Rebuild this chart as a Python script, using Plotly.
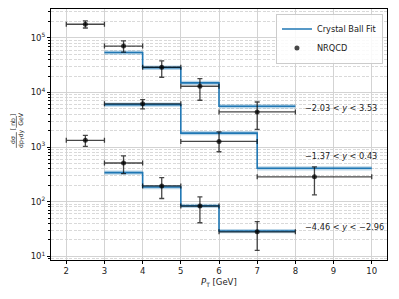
import numpy as np
import plotly.graph_objects as go

# ---- data ----
fit1_edges = [3, 4, 5, 6, 8]
fit1_vals = [5.4e4, 2.85e4, 1.5e4, 5.6e3]
fit2_edges = [3, 5, 7, 10]
fit2_vals = [6.0e3, 1.8e3, 4.1e2]
fit3_edges = [3, 4, 5, 6, 8]
fit3_vals = [3.4e2, 1.85e2, 8.4e1, 2.9e1]
fit_rel_unc = 0.09

s1_x = [2.5, 3.5, 4.5, 5.5, 7.0]
s1_hw = [0.5, 0.5, 0.5, 0.5, 1.0]
s1_y = [1.78e5, 7.1e4, 2.9e4, 1.3e4, 4.4e3]
s1_hi = [2.05e5, 8.8e4, 3.8e4, 1.8e4, 6.7e3]
s1_lo = [1.52e5, 5.5e4, 1.9e4, 7.2e3, 2.1e3]

s2_x = [2.5, 4.0, 6.0, 8.5]
s2_hw = [0.5, 1.0, 1.0, 1.5]
s2_y = [1.33e3, 6.2e3, 1.27e3, 2.85e2]
s2_hi = [1.64e3, 7.4e3, 1.9e3, 4.35e2]
s2_lo = [1.03e3, 5.0e3, 8.2e2, 1.33e2]

s3_x = [3.5, 4.5, 5.5, 7.0]
s3_hw = [0.5, 0.5, 0.5, 1.0]
s3_y = [5.1e2, 1.94e2, 8.3e1, 2.8e1]
s3_hi = [6.9e2, 2.76e2, 1.22e2, 4.3e1]
s3_lo = [3.26e2, 1.14e2, 4.1e1, 1.28e1]

labels = ["\u22122.03 < <i>y</i> < 3.53", "\u22121.37 < <i>y</i> < 0.43", "\u22124.46 < <i>y</i> < \u22122.96"]
label_x = [8.2, 8.2, 8.2]
label_y = [5.1e3, 7.0e2, 3.45e1]

xticks = [2, 3, 4, 5, 6, 7, 8, 9, 10]
yticks = [1e1, 1e2, 1e3, 1e4, 1e5]
yticktext = ["10<sup>1</sup>", "10<sup>2</sup>", "10<sup>3</sup>", "10<sup>4</sup>", "10<sup>5</sup>"]

BLUE = "#1f77b4"
BAND = "rgba(31,119,180,0.3)"
PT = "rgba(0,0,0,0.72)"
FONT = "DejaVu Sans"
FS = 8.5

fig = go.Figure()

fits = [(fit1_edges, fit1_vals), (fit2_edges, fit2_vals), (fit3_edges, fit3_vals)]
for i, (edges, vals) in enumerate(fits):
    v = list(vals) + [vals[-1]]
    lo = [a * (1 - fit_rel_unc) for a in v]
    hi = [a * (1 + fit_rel_unc) for a in v]
    fig.add_trace(go.Scatter(x=edges, y=lo, mode="lines", line=dict(width=0, shape="hv"),
                             showlegend=False, hoverinfo="skip"))
    fig.add_trace(go.Scatter(x=edges, y=hi, mode="lines", line=dict(width=0, shape="hv"),
                             fill="tonexty", fillcolor=BAND, showlegend=False, hoverinfo="skip"))
    fig.add_trace(go.Scatter(x=edges, y=v, mode="lines", line=dict(color=BLUE, width=1.6, shape="hv"),
                             name="Crystal Ball Fit", showlegend=(i == 0)))

pts = [(s1_x, s1_hw, s1_y, s1_hi, s1_lo), (s2_x, s2_hw, s2_y, s2_hi, s2_lo), (s3_x, s3_hw, s3_y, s3_hi, s3_lo)]
for i, (x, hw, y, hi, lo) in enumerate(pts):
    fig.add_trace(go.Scatter(
        x=x, y=y, mode="markers", name="NRQCD", showlegend=(i == 0),
        marker=dict(color=PT, size=5),
        error_x=dict(type="data", array=hw, color=PT, thickness=1.3, width=2.5),
        error_y=dict(type="data", array=[h - c for h, c in zip(hi, y)],
                     arrayminus=[c - l for c, l in zip(y, lo)], color=PT, thickness=1.3, width=2.5),
    ))

for t, xx, yy in zip(labels, label_x, label_y):
    fig.add_annotation(x=xx, y=np.log10(yy), text=t, showarrow=False, xanchor="left", yanchor="middle",
                       font=dict(family=FONT, size=8.2, color="#222"))

# axis titles
fig.add_annotation(xref="paper", yref="paper", x=0.5, y=-0.088, text="<i>P</i><sub>T</sub> [GeV]",
                   showarrow=False, xanchor="center", yanchor="middle", font=dict(family=FONT, size=FS, color="#222"))
NB = "\u00a0"
ylab = ("<u>" + NB * 2 + "d\u03c3" + NB * 2 + "</u>" + NB + "[" + "<u>" + NB + "nb" + NB + "</u>" + "]"
        + "<br>" + "dp<sub>T</sub>dy" + NB * 2 + "GeV" + NB)
fig.add_annotation(xref="paper", yref="paper", x=-0.1, y=0.52, text=ylab, textangle=-90,
                   showarrow=False, xanchor="center", yanchor="middle", align="left",
                   font=dict(family=FONT, size=6.2, color="#222"))

fig.update_layout(
    width=399, height=299,
    margin=dict(l=51, r=12, t=9, b=39, autoexpand=False),
    paper_bgcolor="white", plot_bgcolor="white",
    font=dict(family=FONT, size=FS, color="#222"),
    legend=dict(x=0.988, y=0.982, xanchor="right", yanchor="top", bgcolor="rgba(255,255,255,0.85)",
                bordercolor="#cccccc", borderwidth=1, font=dict(size=8.2), tracegroupgap=0,
                traceorder="normal", itemwidth=30),
    xaxis=dict(range=[1.6, 10.4], tickvals=xticks, showgrid=True, gridcolor="#d3d3d3", gridwidth=1,
               showline=True, linecolor="black", linewidth=1, mirror=True, automargin=False,
               ticks="outside", ticklen=3, tickcolor="black", zeroline=False),
    yaxis=dict(type="log", range=[0.93, 5.53], tickvals=yticks, ticktext=yticktext,
               showgrid=True, gridcolor="#d3d3d3", gridwidth=1, automargin=False,
               showline=True, linecolor="black", linewidth=1, mirror=True,
               ticks="outside", ticklen=3, tickcolor="black", zeroline=False,
               minor=dict(dtick="D1", showgrid=True, griddash="3px,1.5px", gridcolor="#d9d9d9", gridwidth=0.8,
                          ticks="outside", ticklen=2, tickcolor="black")),
)

fig.write_html("out.html", config={"displayModeBar": False},
               post_script="document.body.style.margin='0';document.body.style.padding='0';")
